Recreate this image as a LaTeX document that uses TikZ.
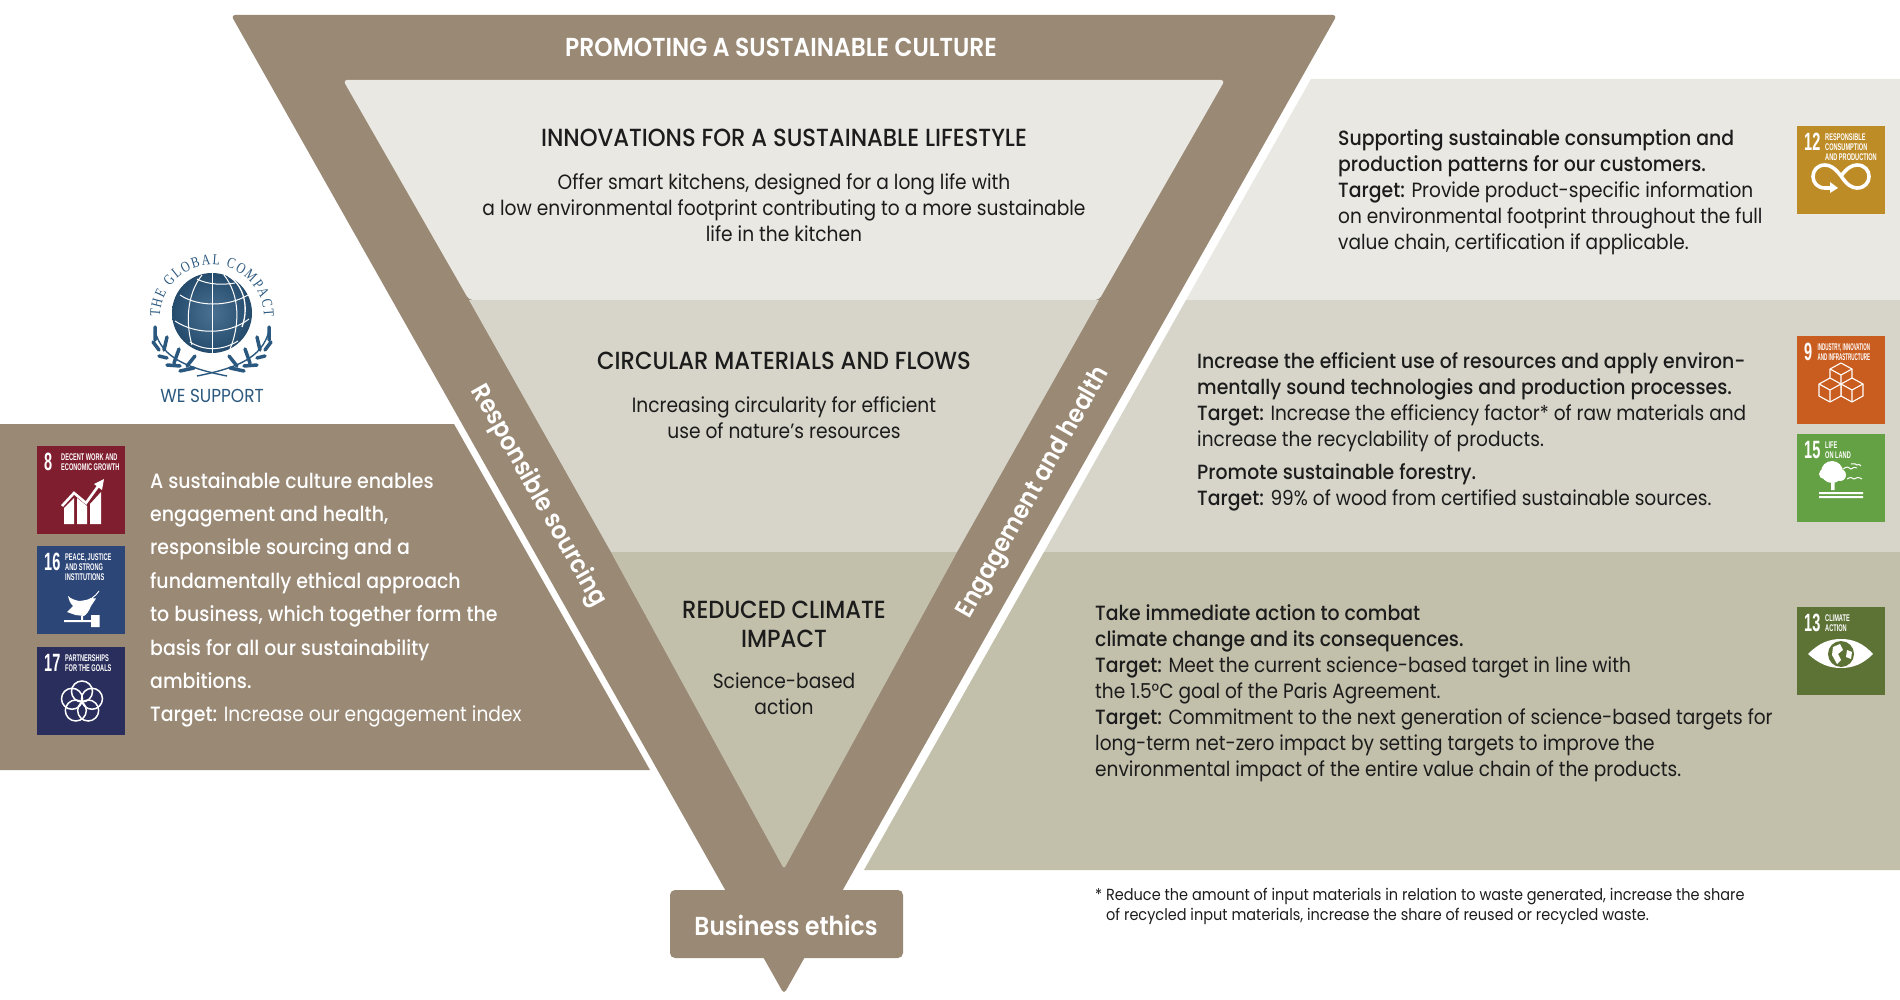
\documentclass[tikz,border=0pt]{standalone}
\usepackage{fontspec}
\setmainfont[FakeStretch=0.9,BoldFont={Poppins Medium},BoldFeatures={FakeStretch=0.915}]{Poppins}
\newfontfamily\strongfont[FakeStretch=0.9]{Poppins SemiBold}
\newfontfamily\tilefont[FakeStretch=0.58]{Liberation Sans Bold}
\newfontfamily\logofont[FakeStretch=0.8]{Liberation Serif}
\usetikzlibrary{decorations.text}

\definecolor{brownmain}{HTML}{998975}
\definecolor{bandone}{HTML}{E9E8E3}
\definecolor{bandtwo}{HTML}{D7D5C9}
\definecolor{bandthree}{HTML}{C2BFAB}
\definecolor{logoblue}{HTML}{2B587F}
\definecolor{inktext}{HTML}{1C1C1C}
\definecolor{goalcolE}{HTML}{7F1E2F}
\definecolor{goalcolP}{HTML}{2D4678}
\definecolor{goalcolG}{HTML}{2A2E5C}
\definecolor{goalcolR}{HTML}{BE8C27}
\definecolor{goalcolI}{HTML}{C95D20}
\definecolor{goalcolL}{HTML}{64A144}
\definecolor{goalcolC}{HTML}{5D7336}

\tikzset{
  head/.style={anchor=center, align=center, text=inktext, inner sep=0pt, font=\bfseries\fontsize{24.8}{29}\selectfont},
  centered/.style={anchor=north, align=center, text=inktext, inner sep=0pt, font=\fontsize{20.7}{26}\selectfont},
  sidetext/.style={anchor=north west, align=left, text=inktext, inner sep=0pt, font=\fontsize{20.6}{26}\selectfont},
  whitebold/.style={anchor=center, text=white, inner sep=0pt},
  tile/.style={anchor=north west, minimum size=88pt, inner sep=0pt},
  tilenum/.style={anchor=north west, text=white, inner sep=0pt, font=\tilefont\fontsize{25}{25}\selectfont},
  tilename/.style={anchor=north west, align=left, text=white, inner sep=0pt, font=\tilefont\fontsize{9.7}{10}\selectfont},
}

% name, x, y, colour, number, title offset, title
\newcommand{\sdgtile}[7]{
  \node[tile, fill=#4] (#1) at (#2,#3) {};
  \node[tilenum] (#1num) at (#2+7,#3+7) {#5};
  \node[tilename] (#1name) at (#2+#6,#3+8) {#7};
}
\newcommand{\cubeicon}[2]{
  \draw[white, line width=1.1pt, line join=round, fill=#2] (#1) ++(0,-12) -- ++(11,6) -- ++(0,12) -- ++(-11,6) -- ++(-11,-6) -- ++(0,-12) -- cycle;
  \draw[white, line width=1.1pt] (#1) -- ++(0,12) (#1) -- ++(11,-6) (#1) -- ++(-11,-6);
}

\begin{document}
\begin{tikzpicture}[x=1pt, y=-1pt]
  \useasboundingbox (0,0) rectangle (1900,1000);

  % right hand panels
  \fill[bandone] (1311,79) -- (1900,79) -- (1900,300) -- (1186,300) -- cycle;
  \fill[bandtwo] (1186,300) -- (1900,300) -- (1900,552) -- (1044,552) -- cycle;
  \fill[bandthree] (1044,552) -- (1900,552) -- (1900,870) -- (864,870) -- cycle;

  % left panel
  \fill[brownmain] (0,424) -- (454,424) -- (650,770) -- (0,770) -- cycle;

  % triangle
  \fill[brownmain, rounded corners=4pt] (231,15) -- (1337,15) -- (784,994) -- cycle;
  \fill[brownmain, rounded corners=5pt] (670,890) rectangle (903,958);
  \fill[bandone, rounded corners=4pt] (343,80) -- (1225,80) -- (1099,300) -- (469,300) -- cycle;
  \fill[bandtwo] (469,300) -- (1099,300) -- (957,552) -- (611,552) -- cycle;
  \fill[bandthree, rounded corners=3pt] (611,552) -- (957,552) -- (784,869) -- cycle;
  \fill[bandthree] (611,552) -- (957,552) -- (900,655) -- (668,655) -- cycle;

  % triangle texts
  \node[whitebold, font=\strongfont\fontsize{26}{26}\selectfont] (culture) at (781,47) {PROMOTING A SUSTAINABLE CULTURE};
  \node[head] (innovations) at (784,138) {INNOVATIONS FOR A SUSTAINABLE LIFESTYLE};
  \node[centered] (innovationstext) at (784,173) {Offer smart kitchens, designed for a long life with\\a low environmental footprint contributing to a more sustainable\\life in the kitchen};
  \node[head] (circular) at (784,361) {CIRCULAR MATERIALS AND FLOWS};
  \node[centered] (circulartext) at (784,396) {Increasing circularity for efficient\\use of nature’s resources};
  \node[head] (climate) at (784,624) {REDUCED CLIMATE\\IMPACT};
  \node[centered] (climatetext) at (784,673) {Science-based\\action};
  \node[whitebold, rotate=-60.5, font=\strongfont\fontsize{25.5}{25.5}\selectfont] (sourcing) at (538,496) {Responsible sourcing};
  \node[whitebold, rotate=60.5, font=\strongfont\fontsize{25.5}{25.5}\selectfont] (health) at (1034,493) {Engagement and health};
  \node[whitebold, font=\strongfont\fontsize{26}{26}\selectfont] (ethics) at (786,925) {Business ethics};

  % right texts
  \node[sidetext] (consumption) at (1338,129) {\textbf{Supporting sustainable consumption and}\\\textbf{production patterns for our customers.}\\\textbf{Target:} Provide product-specific information\\on environmental footprint throughout the full\\value chain, certification if applicable.};
  \node[sidetext] (resources) at (1197,352) {\textbf{Increase the efficient use of resources and apply environ-}\\\textbf{mentally sound technologies and production processes.}\\\textbf{Target:} Increase the efficiency factor* of raw materials and\\increase the recyclability of products.};
  \node[sidetext] (forestry) at (1197,463) {\textbf{Promote sustainable forestry.}\\\textbf{Target:} 99\% of wood from certified sustainable sources.};
  \node[sidetext] (action) at (1095,604) {\textbf{Take immediate action to combat}\\\textbf{climate change and its consequences.}\\\textbf{Target:} Meet the current science-based target in line with\\the 1.5°C goal of the Paris Agreement.\\\textbf{Target:} Commitment to the next generation of science-based targets for\\long-term net-zero impact by setting targets to improve the\\environmental impact of the entire value chain of the products.};
  \node[sidetext, font=\fontsize{16.1}{20}\selectfont] (footnote) at (1095,888) {* Reduce the amount of input materials in relation to waste generated, increase the share\\\hspace*{11pt}of recycled input materials, increase the share of reused or recycled waste.};

  % left text
  \node[sidetext, text=white, font=\bfseries\fontsize{20.7}{33.4}\selectfont] (enables) at (150,472) {A sustainable culture enables\\engagement and health,\\responsible sourcing and a\\fundamentally ethical approach\\to business, which together form the\\basis for all our sustainability\\ambitions.\\Target: \mdseries Increase our engagement index};

  % tiles on the left
  \sdgtile{goaleight}{37}{446}{goalcolE}{8}{24}{DECENT WORK AND\\ECONOMIC GROWTH}
  \sdgtile{goalsixteen}{37}{546}{goalcolP}{16}{28}{PEACE, JUSTICE\\AND STRONG\\INSTITUTIONS}
  \sdgtile{goalseventeen}{37}{647}{goalcolG}{17}{28}{PARTNERSHIPS\\FOR THE GOALS}

  % tiles on the right
  \sdgtile{goaltwelve}{1797}{126}{goalcolR}{12}{28}{RESPONSIBLE\\CONSUMPTION\\AND PRODUCTION}
  \sdgtile{goalnine}{1797}{336}{goalcolI}{9}{20.5}{\scalebox{.8}[1]{INDUSTRY, INNOVATION}\\\scalebox{.8}[1]{AND INFRASTRUCTURE}}
  \sdgtile{goalfifteen}{1797}{434}{goalcolL}{15}{28}{LIFE\\ON LAND}
  \sdgtile{goalthirteen}{1797}{607}{goalcolC}{13}{28}{CLIMATE\\ACTION}

  % icon goal 8
  \begin{scope}[shift={(37,446)}]
    \fill[white] (27,62) -- (37,52) -- (37,78) -- (27,78) -- cycle (40,52) -- (50,60) -- (50,78) -- (40,78) -- cycle (53,58) -- (64,46) -- (64,78) -- (53,78) -- cycle;
    \draw[white, line width=2.6pt] (25,60) -- (37,47) -- (49,57) -- (62,39);
    \fill[white] (67,33) -- (65,44) -- (57,38) -- cycle;
  \end{scope}

  % icon goal 16
  \begin{scope}[shift={(37,546)}]
    \fill[white] (31,50) .. controls (34,53) and (38,54) .. (42,55) .. controls (45,55) and (48,54) .. (50.5,53.6) -- (54,52) -- (59,52.5) -- (54,60) .. controls (52,65) and (50,68) .. (47,70) -- (38.5,69) -- (30,66) -- (36,60) .. controls (33,57) and (32,54) .. (31,50) -- cycle;
    \draw[white, line width=0.9pt] (55,52) .. controls (58,50) and (60,48) .. (62,45);
    \fill[white] (27,74) rectangle (56,76) (54,69) rectangle (62.5,81) (44,70) rectangle (46,75);
  \end{scope}

  % icon goal 17
  \begin{scope}[shift={(37,647)}]
    \foreach \petal in {-90,-18,54,126,198}
      \draw[white, line width=1.5pt] (45,55) ++(\petal:10.5) circle (10.5);
  \end{scope}

  % icon goal 12
  \begin{scope}[shift={(1797,126)}]
    \draw[white, line width=3.6pt] (44,50) .. controls (50,42) and (55,39) .. (60,39) .. controls (76,39) and (76,62) .. (60,62) .. controls (55,62) and (50,59) .. (44,50) .. controls (38,42) and (33,39) .. (28,39) .. controls (12,39) and (12,62) .. (28,62) -- (36,62);
    \fill[white] (41,62) -- (33,56) -- (33,67) -- cycle;
  \end{scope}

  % icon goal 9
  \begin{scope}[shift={(1797,336)}]
    \cubeicon{44,39}{goalcolI}
    \cubeicon{55,54}{goalcolI}
    \cubeicon{33,54}{goalcolI}
  \end{scope}

  % icon goal 15
  \begin{scope}[shift={(1797,434)}]
    \fill[white] (35,38) circle (11) (27,40) circle (5) (43,41) circle (6);
    \fill[white] (34,48) rectangle (37.5,56) (22,58) rectangle (66,60) (22,62) rectangle (66,64);
    \draw[white, line width=1pt] (46,35) .. controls (50,32) and (52,33) .. (54,35) .. controls (56,33) and (58,33) .. (60,34);
    \draw[white, line width=1pt] (54,30) .. controls (57,29) and (59,30) .. (60,31) .. controls (61,30) and (63,30) .. (64,32);
    \draw[white, line width=1pt] (50,45) .. controls (53,43) and (55,43) .. (57,45) .. controls (59,43) and (62,43) .. (65,45);
  \end{scope}

  % icon goal 13
  \begin{scope}[shift={(1797,607)}]
    \fill[white] (11,47) .. controls (22,36) and (32,32) .. (44,32) .. controls (56,32) and (66,36) .. (76,47) .. controls (66,57) and (56,61) .. (44,61) .. controls (32,61) and (22,57) .. (11,47) -- cycle;
    \fill[goalcolC] (44,47) circle (13);
    \fill[white] (36,40) -- (43,37) -- (46,43) -- (41,47) -- (44,53) -- (40,57) -- (35,48) -- cycle (50,43) -- (55,45) -- (54,52) -- (49,50) -- cycle;
  \end{scope}

  % global compact logo
  \begin{scope}[shift={(212,313)}]
    \shade[inner color=logoblue!85, outer color=logoblue!85!black] (0,0) circle (40);
    \draw[white, line width=1pt] (0,-40) -- (0,40);
    \draw[white, line width=1pt] (-10,-38) .. controls (-26,-18) and (-26,12) .. (-20,32);
    \draw[white, line width=1pt] (12,-38) .. controls (28,-18) and (28,12) .. (18,36);
    \draw[white, line width=1pt] (-15,-34) .. controls (-4,-28) and (12,-28) .. (23,-30);
    \draw[white, line width=1pt] (-32,-18) .. controls (-14,-6) and (16,-6) .. (36,-18);
    \draw[white, line width=1pt] (-37,8) .. controls (-16,22) and (16,22) .. (37,6);
    \draw[white, line width=1pt] (-22,29) .. controls (-8,38) and (10,38) .. (26,28);
    \draw[white, line width=1.3pt] (16,-37) .. controls (30,-30) and (38,-8) .. (30,14);
    \foreach \side in {1,-1} {
      \begin{scope}[xscale=\side]
        \draw[logoblue, line width=1.4pt] (-57,18) .. controls (-50,45) and (-25,55) .. (15,63);
        \draw[logoblue, line width=3.5pt, line cap=round] (-57,27) -- (-57,14) (-53,37) -- (-59,29) (-48,37) -- (-45,24) (-45,45) -- (-53,43) (-38,50) -- (-33,36) (-32,53) -- (-45,52) (-25,53) -- (-17,43) (-18,55) -- (-32,58);
      \end{scope}
    }
  \end{scope}
  \path[decorate, decoration={text along path, text align={fit to path}, text={|\logofont\fontsize{15}{15}\selectfont\color{logoblue}|THE GLOBAL COMPACT}}] (160,317) arc[start angle=180, end angle=360, radius=52];
  \node[anchor=center, inner sep=0pt, text=logoblue, font=\fontsize{18.8}{18.8}\selectfont] (wesupport) at (212,396) {WE SUPPORT};
\end{tikzpicture}
\end{document}
